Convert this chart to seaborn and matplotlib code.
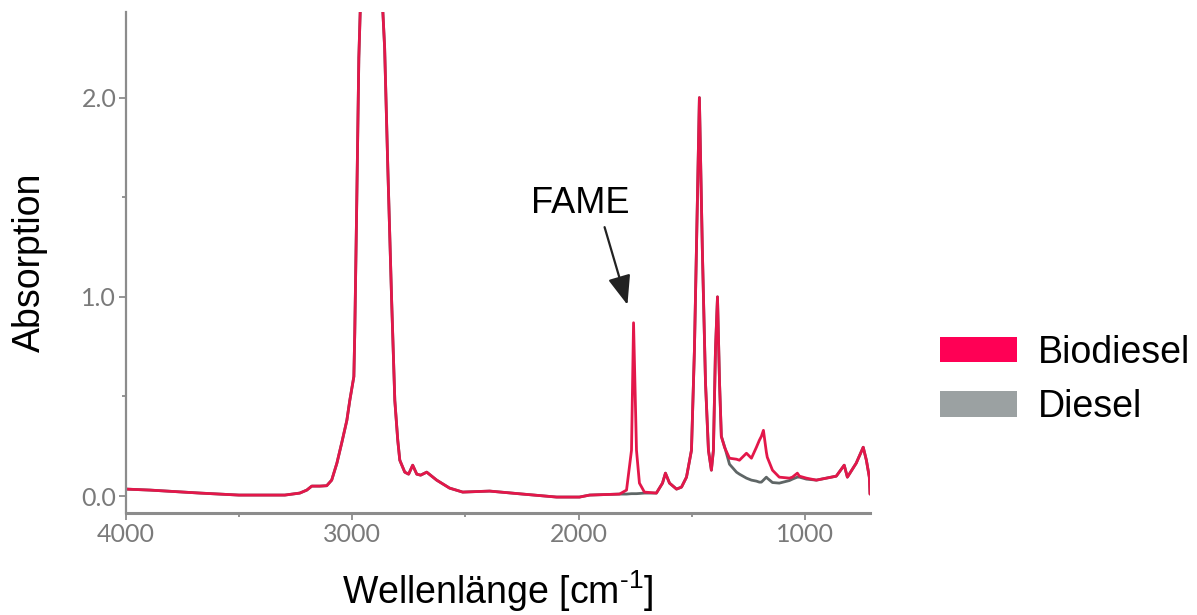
import matplotlib
matplotlib.use("Agg")
import matplotlib.pyplot as plt
from matplotlib.patches import Patch
from matplotlib.ticker import MultipleLocator
import seaborn as sns
import pandas as pd

# ---------------- data ----------------
wavenumber = [4000, 3894, 3673, 3501, 3298, 3232, 3201, 3179, 3143, 3113, 3091,
              3068, 3046, 3024, 3011, 3002, 2993, 2989, 2980, 2971, 2958, 2940,
              2918, 2896, 2879, 2870, 2857, 2843, 2826, 2812, 2799, 2790, 2768,
              2751, 2733, 2715, 2698, 2671, 2649, 2627, 2570, 2512, 2393, 2247,
              2097, 1996, 1951, 1819, 1788, 1766, 1757, 1744, 1731, 1709, 1656,
              1629, 1616, 1598, 1567, 1545, 1523, 1501, 1488, 1479, 1466, 1453,
              1439, 1426, 1413, 1404, 1395, 1386, 1377, 1369, 1355, 1333, 1302,
              1289, 1258, 1236, 1214, 1201, 1192, 1183, 1170, 1166, 1143, 1113,
              1068, 1055, 1033, 1024, 993, 949, 905, 861, 826, 812, 773, 742,
              728, 715, 712]

biodiesel = [0.035, 0.030, 0.015, 0.005, 0.005, 0.015, 0.030, 0.050, 0.050, 0.052, 0.080,
             0.165, 0.270, 0.380, 0.480, 0.540, 0.600, 0.820, 1.490, 2.200, 2.700, 2.900,
             2.850, 2.750, 2.700, 2.550, 2.250, 1.650, 0.980, 0.480, 0.280, 0.180, 0.120,
             0.110, 0.155, 0.110, 0.105, 0.120, 0.100, 0.080, 0.040, 0.020, 0.025, 0.010,
             -0.005, -0.005, 0.005, 0.010, 0.030, 0.230, 0.870, 0.230, 0.065, 0.020, 0.015,
             0.065, 0.115, 0.065, 0.035, 0.045, 0.095, 0.230, 0.730, 1.240, 2.000, 1.240,
             0.570, 0.230, 0.130, 0.230, 0.730, 1.000, 0.570, 0.300, 0.245, 0.190, 0.185,
             0.180, 0.215, 0.190, 0.245, 0.280, 0.300, 0.330, 0.220, 0.195, 0.130, 0.095,
             0.090, 0.095, 0.115, 0.100, 0.090, 0.080, 0.090, 0.100, 0.155, 0.095, 0.165, 0.245,
             0.180, 0.095, 0.010]

diesel = [0.035, 0.030, 0.015, 0.005, 0.005, 0.015, 0.030, 0.050, 0.050, 0.052, 0.080,
          0.165, 0.270, 0.380, 0.480, 0.540, 0.600, 0.820, 1.490, 2.200, 2.700, 2.900,
          2.850, 2.750, 2.700, 2.550, 2.250, 1.650, 0.980, 0.480, 0.280, 0.180, 0.120,
          0.110, 0.155, 0.110, 0.105, 0.120, 0.100, 0.080, 0.040, 0.020, 0.025, 0.010,
          -0.005, -0.005, 0.005, 0.010, 0.010, 0.012, 0.012, 0.012, 0.013, 0.015, 0.015,
          0.065, 0.115, 0.065, 0.035, 0.045, 0.095, 0.230, 0.730, 1.240, 2.000, 1.240,
          0.570, 0.230, 0.130, 0.230, 0.730, 1.000, 0.570, 0.300, 0.250, 0.160, 0.120,
          0.110, 0.090, 0.080, 0.075, 0.070, 0.070, 0.080, 0.095, 0.090, 0.068, 0.065,
          0.078, 0.085, 0.095, 0.095, 0.085, 0.080, 0.090, 0.100, 0.155, 0.095, 0.165, 0.245,
          0.180, 0.095, 0.010]

series_names = ["Diesel", "Biodiesel"]
x_ticks = [4000, 3000, 2000, 1000]
y_ticks = [0.0, 1.0, 2.0]
annotation_text = "FAME"

# ---------------- styling ----------------
line_colors = {"Biodiesel": "#E3174A", "Diesel": "#5F6666"}
legend_colors = {"Biodiesel": "#FF0055", "Diesel": "#9BA1A2"}
axis_grey = "#8C8C8C"
tick_grey = "#7A7A7A"

sns.set_style("ticks")
plt.rcParams["font.family"] = ["Liberation Sans", "DejaVu Sans"]
plt.rcParams["mathtext.fontset"] = "custom"
plt.rcParams["mathtext.rm"] = "Liberation Sans"

df = pd.concat([
    pd.DataFrame({"wn": wavenumber, "abs": diesel, "series": "Diesel"}),
    pd.DataFrame({"wn": wavenumber, "abs": biodiesel, "series": "Biodiesel"}),
], ignore_index=True)

fig = plt.figure(figsize=(11.97, 6.15), dpi=100)
ax = fig.add_axes([126 / 1197, 1 - 513 / 615, (870 - 126) / 1197, (513 - 12) / 615])

sns.lineplot(data=df, x="wn", y="abs", hue="series", hue_order=series_names,
             palette=line_colors, linewidth=2.0, estimator=None, sort=False,
             legend=False, ax=ax)

ax.set_xlim(4000, 712)
ax.set_ylim(-0.085, 2.43)
ax.set_xticks(x_ticks)
ax.set_xticklabels([f"{t:d}" for t in x_ticks])
ax.set_yticks(y_ticks)
ax.set_yticklabels([f"{t:.1f}" for t in y_ticks])
ax.xaxis.set_minor_locator(MultipleLocator(500))
ax.yaxis.set_minor_locator(MultipleLocator(0.5))

for side in ["top", "right"]:
    ax.spines[side].set_visible(False)
ax.spines["left"].set_color(axis_grey)
ax.spines["left"].set_linewidth(1.6)
ax.spines["bottom"].set_color(axis_grey)
ax.spines["bottom"].set_linewidth(2.2)

ax.tick_params(axis="both", which="major", length=5, width=1.3, color=axis_grey,
               labelcolor=tick_grey, labelsize=18, pad=2)
ax.tick_params(axis="both", which="minor", length=3, width=1.3, color=axis_grey)
for lab in ax.get_xticklabels() + ax.get_yticklabels():
    lab.set_family("Lato")

ax.set_xlabel("Wellenlänge [cm$^{\\mathrm{\u20101}}$]", fontsize=27, color="black", labelpad=16)
ax.set_ylabel("Absorption", fontsize=27, color="black", labelpad=24)

# FAME annotation
ax.text(1991, 1.47, annotation_text, fontsize=26, ha="center", va="center", color="black")
ax.annotate("", xy=(1784, 0.96), xytext=(1885, 1.35),
            arrowprops=dict(arrowstyle="-|>,head_length=0.9,head_width=0.35",
                            color="#222222", lw=1.6, mutation_scale=20,
                            shrinkA=0, shrinkB=0))

handles = [Patch(facecolor=legend_colors[n], edgecolor="none") for n in ["Biodiesel", "Diesel"]]
leg = fig.legend(handles, ["Biodiesel", "Diesel"], loc="center left",
                 bbox_to_anchor=(925 / 1197, 1 - 380 / 615), frameon=False,
                 fontsize=27, handlelength=2.05, handleheight=0.67,
                 handletextpad=0.55, labelspacing=0.5, borderaxespad=0)
for t in leg.get_texts():
    t.set_color("black")

fig.savefig("out.png", dpi=100)
